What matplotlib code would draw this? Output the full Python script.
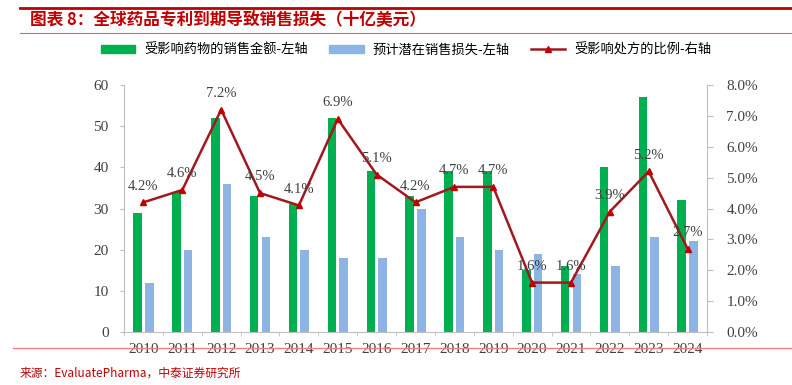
import matplotlib
matplotlib.use("Agg")
import matplotlib.pyplot as plt
import numpy as np
from matplotlib.lines import Line2D
from matplotlib.patches import Patch

plt.rcParams['font.family'] = ['Liberation Serif', 'Noto Sans CJK SC', 'DejaVu Sans']

years = ["2010", "2011", "2012", "2013", "2014", "2015", "2016", "2017",
         "2018", "2019", "2020", "2021", "2022", "2023", "2024"]
sales_affected = [29, 34, 52, 33, 31, 52, 39, 33, 39, 39, 15, 16, 40, 57, 32]
potential_loss = [12, 20, 36, 23, 20, 18, 18, 30, 23, 20, 19, 14, 16, 23, 22]
share_pct = [4.2, 4.6, 7.2, 4.5, 4.1, 6.9, 5.1, 4.2, 4.7, 4.7, 1.6, 1.6, 3.9, 5.2, 2.7]

GREEN = "#00B050"
BLUE = "#8EB4E3"
LINE = "#A0191E"
MARK = "#C00000"
RED = "#C00000"
GRID = "#BFBFBF"
TXT = "#404040"

fig = plt.figure(figsize=(7.92, 3.85), dpi=100)
ax = fig.add_axes([124 / 792, 1 - 332 / 385, (707 - 124) / 792, (332 - 85) / 385])
x = np.arange(len(years))

ax.bar(x - 0.15, sales_affected, width=0.22, color=GREEN, zorder=2)
ax.bar(x + 0.15, potential_loss, width=0.22, color=BLUE, zorder=2)
ax.set_xlim(-0.5, len(years) - 0.5)
ax.set_ylim(0, 60)
ax.set_yticks(range(0, 61, 10))
ax.set_xticks(x)
ax.set_xticklabels(years)
ax.tick_params(axis="y", labelsize=11, colors=TXT, length=3, color=GRID, pad=8)
ax.tick_params(axis="x", labelsize=11, colors=TXT, length=0, pad=8)
ax.set_xticks(np.arange(-0.5, len(years), 1), minor=True)
ax.tick_params(axis="x", which="minor", length=3, color=GRID)
for s in ["top", "right"]:
    ax.spines[s].set_visible(False)
for s in ["left", "bottom"]:
    ax.spines[s].set_color(GRID)

ax2 = ax.twinx()
ax2.plot(x, share_pct, color=LINE, lw=1.8, marker="^", ms=5,
         markerfacecolor=MARK, markeredgecolor=MARK, zorder=3)
ax2.set_ylim(0, 8)
ax2.set_yticks(range(0, 9))
ax2.set_yticklabels([f"{v:.1f}%" for v in range(0, 9)])
ax2.tick_params(axis="y", labelsize=11, colors=TXT, length=4, color=GRID, pad=10)
for s in ["top", "left", "bottom"]:
    ax2.spines[s].set_visible(False)
ax2.spines["right"].set_color(GRID)
for xi, v in zip(x, share_pct):
    ax2.annotate(f"{v:.1f}%", (xi, v), xytext=(0, 7), textcoords="offset points",
                 ha="center", va="bottom", fontsize=10.5, color=TXT)

# legend
handles = [Patch(color=GREEN), Patch(color=BLUE),
           Line2D([0], [0], color=LINE, lw=1.8, marker="^", ms=4,
                  markerfacecolor=MARK, markeredgecolor=MARK)]
labels = ["受影响药物的销售金额-左轴", "预计潜在销售损失-左轴", "受影响处方的比例-右轴"]
fig.legend(handles, labels, loc="center", bbox_to_anchor=(0.513, 1 - 50 / 385),
           ncol=3, frameon=False, handlelength=2.6, handleheight=0.5,
           columnspacing=1.6, handletextpad=0.7,
           prop={"family": ["Noto Sans CJK SC", "DejaVu Sans"], "size": 9.5})

# title and frame lines
fig.add_artist(Line2D([20 / 792, 1], [1 - 8 / 385] * 2, color=RED, lw=2))
fig.add_artist(Line2D([20 / 792, 1], [1 - 33 / 385] * 2, color="#E06060", lw=0.8))
fig.text(30 / 792, 1 - 20 / 385, "图表 8：全球药品专利到期导致销售损失（十亿美元）",
         color=RED, fontsize=12, fontweight="bold", style="italic", va="center",
         family=["Noto Sans CJK SC", "DejaVu Sans"])
fig.add_artist(Line2D([13 / 792, 1], [1 - 348 / 385] * 2, color="#F08080", lw=1))
fig.text(20 / 792, 1 - 373 / 385, "来源：EvaluatePharma，中泰证券研究所",
         color=RED, fontsize=8.5, va="center",
         family=["Noto Sans CJK SC", "DejaVu Sans"])

fig.savefig("out.png", dpi=100)
